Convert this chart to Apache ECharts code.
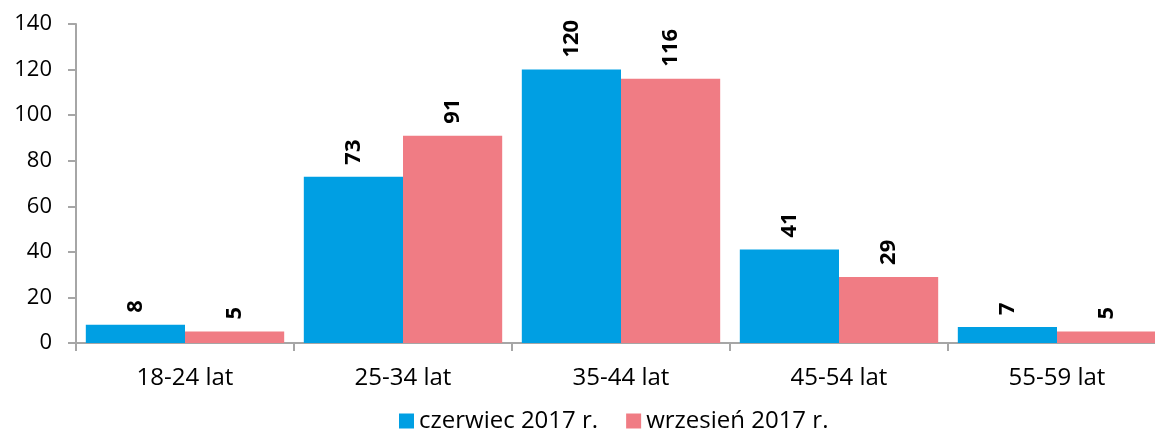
<!DOCTYPE html>
<html>
<head>
<meta charset="utf-8">
<script src="https://cdn.jsdelivr.net/npm/echarts@6/dist/echarts.min.js"></script>
<style>
  html, body { margin: 0; padding: 0; background: #fff; }
  #chart { width: 1155px; height: 429px; }
</style>
</head>
<body>
<div id="chart"></div>
<script>
var categories = ['18-24 lat', '25-34 lat', '35-44 lat', '45-54 lat', '55-59 lat'];
var czerwiec = [8, 73, 120, 41, 7];
var wrzesien = [5, 91, 116, 29, 5];
var seriesNames = ['czerwiec 2017 r.', 'wrzesień 2017 r.'];

var font = 'Open Sans, Liberation Sans, sans-serif';
var axisGray = '#a6a6a6';

function barLabel() {
    return {
        show: true,
        position: 'top',
        rotate: 90,
        align: 'left',
        verticalAlign: 'middle',
        distance: 12,
        fontFamily: font,
        fontWeight: 'bold',
        fontSize: 22,
        color: '#000'
    };
}

var myChart = echarts.init(document.getElementById('chart'));
var option = {
    animation: false,
    // plot runs past the right edge like in the original (last bar is cut)
    grid: { left: 76, width: 1090, top: 24, bottom: 86, outerBoundsMode: 'none', containLabel: false },
    legend: {
        data: seriesNames,
        top: 404,
        left: 394,
        itemWidth: 15,
        itemHeight: 15,
        itemGap: 28,
        icon: 'rect',
        textStyle: { fontFamily: font, fontSize: 24, color: '#000' }
    },
    xAxis: {
        type: 'category',
        data: categories,
        axisLine: { lineStyle: { color: axisGray, width: 2 } },
        axisTick: { show: true, length: 8, lineStyle: { color: axisGray, width: 2 } },
        axisLabel: { fontFamily: font, fontSize: 24, color: '#000', margin: 23 }
    },
    yAxis: {
        type: 'value',
        min: 0,
        max: 140,
        interval: 20,
        splitLine: { show: false },
        axisLine: { show: true, lineStyle: { color: axisGray, width: 2 } },
        axisTick: { show: true, length: 8, lineStyle: { color: axisGray, width: 2 } },
        axisLabel: { fontFamily: font, fontSize: 22, color: '#000', margin: 24 }
    },
    series: [
        {
            name: seriesNames[0],
            type: 'bar',
            data: czerwiec,
            barGap: '0%',
            barCategoryGap: '9%',
            itemStyle: { color: '#009fe3' },
            label: barLabel()
        },
        {
            name: seriesNames[1],
            type: 'bar',
            data: wrzesien,
            itemStyle: { color: '#f07c84' },
            label: barLabel()
        }
    ]
};
myChart.setOption(option);
</script>
</body>
</html>
